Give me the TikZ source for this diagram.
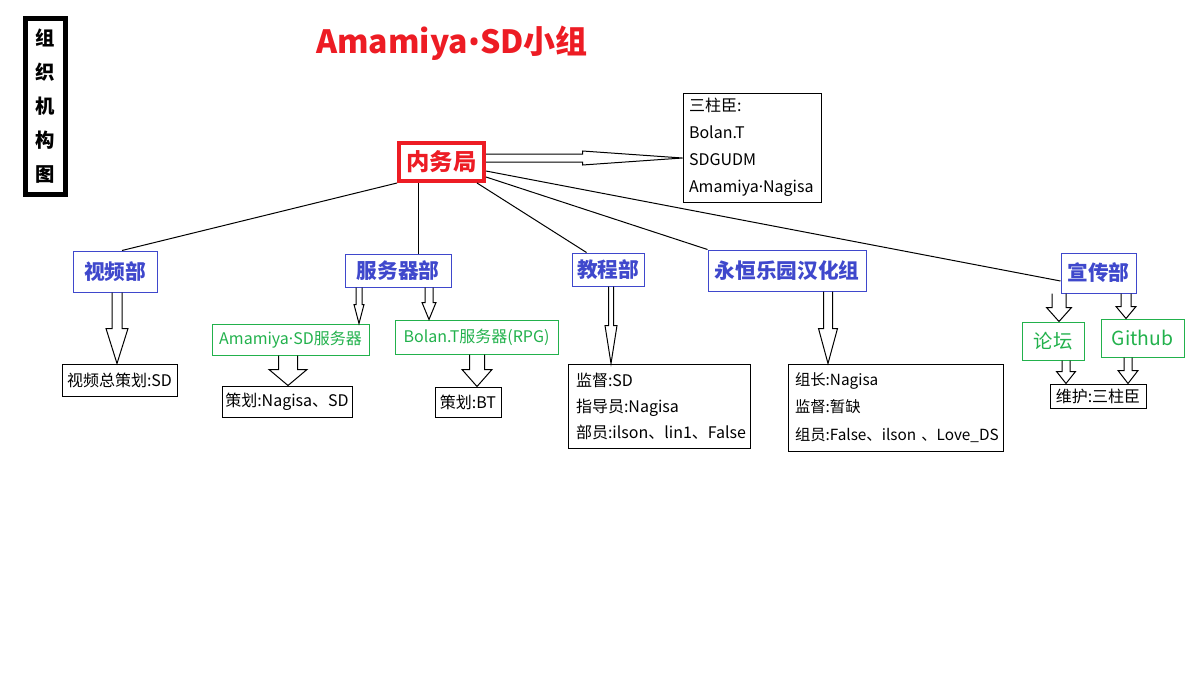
\documentclass[tikz,border=0pt]{standalone}
\usepackage{fontspec}
\setmainfont{Noto Sans CJK SC}
\newfontfamily\dotfont{Noto Sans}
\usetikzlibrary{calc}
\definecolor{deptblue}{RGB}{63,72,204}
\definecolor{sitegreen}{RGB}{34,177,76}
\definecolor{nwjred}{RGB}{237,28,36}
\newcommand{\mdot}{{\dotfont ·}}
\tikzset{
  box/.style={draw, line width=0.75pt, inner sep=0pt, font=\fontsize{12}{19.5}\selectfont},
  dept/.style={box, draw=deptblue, text=deptblue, font=\bfseries\fontsize{15.5}{18}\selectfont},
  site/.style={box, draw=sitegreen, text=sitegreen},
  info/.style={box, align=left, inner xsep=6pt},
  link/.style={line width=0.75pt},
  blockarrow/.style={draw, line width=0.75pt, line join=miter},
}
\newcommand{\downblock}[6]{%
  \draw[blockarrow] let \p1=(#2), \p2=(#3) in
    ({(#1-#4)*0.75pt},\y1) -- ({(#1-#4)*0.75pt},{\y2+#6*0.75pt})
    -- ({(#1-#5)*0.75pt},{\y2+#6*0.75pt}) -- ({#1*0.75pt},\y2)
    -- ({(#1+#5)*0.75pt},{\y2+#6*0.75pt}) -- ({(#1+#4)*0.75pt},{\y2+#6*0.75pt})
    -- ({(#1+#4)*0.75pt},\y1);
}
\newcommand{\rightblock}[5]{%
  \draw[blockarrow] let \p1=(#1), \p2=(#2) in
    (\x1,{\y1+#3*0.75pt}) -- ({\x2-#5*0.75pt},{\y1+#3*0.75pt})
    -- ({\x2-#5*0.75pt},{\y1+#4*0.75pt}) -- (\x2,\y1)
    -- ({\x2-#5*0.75pt},{\y1-#4*0.75pt}) -- ({\x2-#5*0.75pt},{\y1-#3*0.75pt})
    -- (\x1,{\y1-#3*0.75pt});
}
\begin{document}
\begin{tikzpicture}[x=0.75pt, y=-0.75pt]
\useasboundingbox (0,0) rectangle (1203,675);

\node[draw, line width=3.75pt, minimum width=30pt, minimum height=132pt, inner sep=0pt, align=center,
      font=\bfseries\fontsize{14.5}{25.5}\selectfont] (chart) at (45.5,106.5) {组\\织\\机\\构\\图};
\node[text=nwjred, font=\bfseries\fontsize{24}{28}\selectfont] (title) at (452,43) {Amamiya{\dotfont\bfseries •}SD小组};

\node[box, draw=nwjred, text=nwjred, line width=3pt, minimum width=63.75pt, minimum height=28.5pt,
      font=\bfseries\fontsize{17.5}{20}\selectfont] (nwj) at (441.5,162) {内务局};
\node[info, text width=94.5pt, inner xsep=4.5pt, minimum height=81.75pt,
      font=\fontsize{12}{20.25}\selectfont] (szc) at (752,147.5) {三柱臣:\\Bolan.T\\SDGUDM\\Amamiya\mdot Nagisa};

% departments
\node[dept, minimum width=63pt, minimum height=30.75pt] (video) at (115,271.5) {视频部};
\node[dept, minimum width=79.5pt, minimum height=24.75pt] (srv) at (398,270.5) {服务器部};
\node[dept, minimum width=54pt, minimum height=24.75pt] (tut) at (608,269.5) {教程部};
\node[dept, minimum width=118.5pt, minimum height=30.75pt] (hhz) at (787,270.5) {永恒乐园汉化组};
\node[dept, minimum width=56.25pt, minimum height=30pt] (pub) at (1098.5,273) {宣传部};

\node[site, minimum width=117.75pt, minimum height=23.25pt] (sdsrv) at (290.5,339.5) {Amamiya\mdot SD服务器};
\node[site, minimum width=122.25pt, minimum height=25.5pt] (btsrv) at (476.5,337) {Bolan.T服务器(RPG)};
\node[site, minimum width=46.5pt, minimum height=28.5pt, font=\fontsize{14.5}{17}\selectfont] (forum) at (1053,341) {论坛};
\node[site, minimum width=62.25pt, minimum height=28.5pt, font=\fontsize{14.5}{17}\selectfont] (github) at (1142.5,338) {Github};

% staff
\node[box, minimum width=86.25pt, minimum height=24pt] (vlead) at (119.5,380) {视频总策划:SD};
\node[box, minimum width=97.5pt, minimum height=23.25pt] (sdplan) at (287,401.5) {策划:Nagisa、SD};
\node[box, minimum width=49.5pt, minimum height=22.5pt] (btplan) at (468,402) {策划:BT};
\node[info, text width=124.5pt, minimum height=63pt] (tutinfo) at (659,406) {监督:SD\\指导员:Nagisa\\部员:ilson、lin1、False};
\node[info, text width=150.75pt, inner xsep=5.25pt, minimum height=65.25pt,
      font=\fontsize{11.5}{20.5}\selectfont] (hhzinfo) at (895.5,407.5) {\mbox{组长:Nagisa}\\\mbox{监督:暂缺}\\\mbox{组员:False、ilson 、Love\_DS}};
\node[box, minimum width=72pt, minimum height=18pt] (maint) at (1098,396) {维护:三柱臣};

\path ([xshift=-16.9pt]nwj.south) coordinate (srvtop);
\draw[link] (nwj.south west) -- ($(video.north)+(7,0)$);
\draw[link] (srvtop) -- (srvtop |- srv.north);
\draw[link] ($(nwj.south east)+(-9,0)$) -- ($(tut.north west)+(15,0)$);
\draw[link] ($(nwj.east)+(0,15)$) -- (hhz.north west);
\draw[link] ($(nwj.east)+(0,9)$) -- ($(pub.west)+(0,8)$);

\rightblock{$(nwj.east)+(0,-4)$}{szc.west}{4}{7}{100}
\downblock{117}{video.south}{vlead.north}{5}{11}{35}
\downblock{359}{srv.south}{sdsrv.north}{3}{5}{19}
\downblock{429}{srv.south}{btsrv.north}{4}{7}{17}
\downblock{288}{sdsrv.south}{sdplan.north}{9.5}{19}{16}
\downblock{477}{btsrv.south}{btplan.north}{7.5}{15}{17}
\downblock{611}{tut.south}{tutinfo.north}{2.5}{6}{38}
\downblock{828}{hhz.south}{hhzinfo.north}{4.5}{9.5}{35}
\downblock{1059}{pub.south}{forum.north}{7}{12.5}{14}
\downblock{1126}{pub.south}{github.north}{5}{10}{12}
\downblock{1066}{forum.south}{maint.north}{4}{9.5}{12}
\downblock{1128}{github.south}{maint.north}{4}{10}{13}
\end{tikzpicture}
\end{document}
